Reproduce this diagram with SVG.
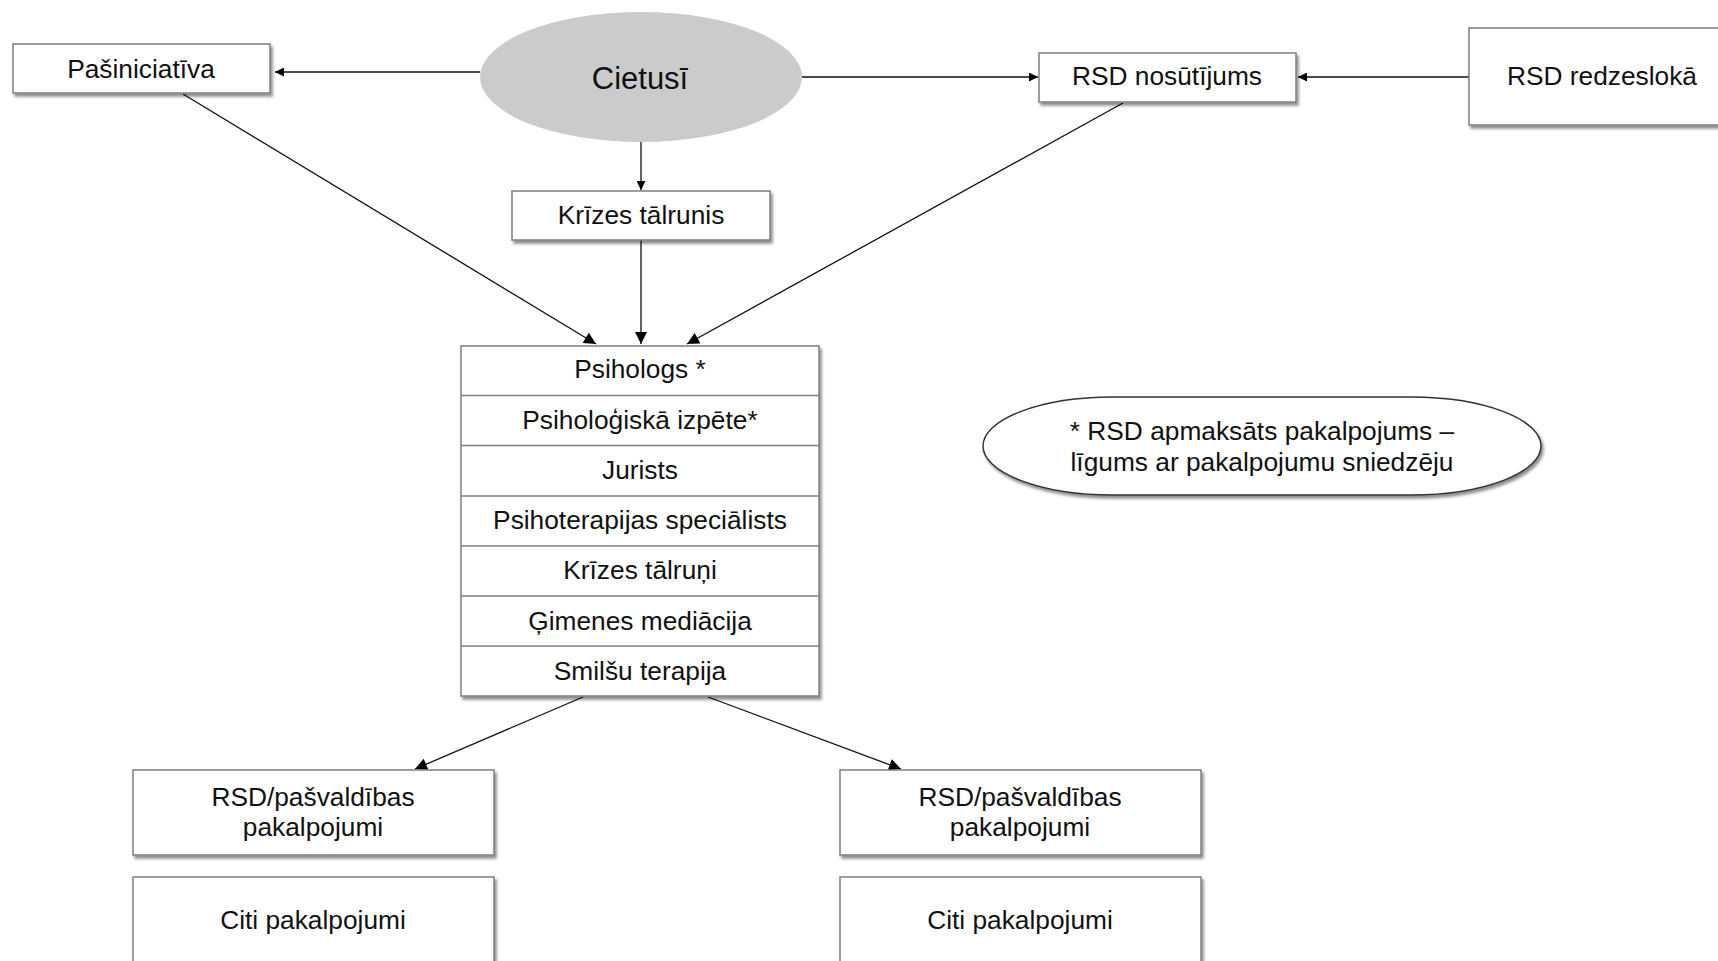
<svg xmlns="http://www.w3.org/2000/svg" width="1718" height="961" viewBox="0 0 1718 961">
<style>
.box{fill:#fff;stroke:#7f7f7f;stroke-width:1.5;filter:url(#sh)}
.t{font-family:"Liberation Sans",Arial,sans-serif;font-size:26.3px;fill:#111;text-anchor:middle}
.c{stroke:#111;stroke-width:1.3;fill:none}
</style>
<defs>
<filter id="sh" x="-10%" y="-10%" width="130%" height="140%">
<feGaussianBlur in="SourceAlpha" stdDeviation="1.5"/>
<feOffset dx="2" dy="3" result="b"/>
<feComponentTransfer><feFuncA type="linear" slope="0.45"/></feComponentTransfer>
<feMerge><feMergeNode/><feMergeNode in="SourceGraphic"/></feMerge>
</filter>
<marker id="ah" viewBox="0 0 10 10" refX="10" refY="5" markerWidth="10" markerHeight="9" markerUnits="userSpaceOnUse" orient="auto">
<path d="M0,0 L10,5 L0,10 z" fill="#000"/>
</marker>
<marker id="ahb" viewBox="0 0 10 10" refX="10" refY="5" markerWidth="13" markerHeight="12" markerUnits="userSpaceOnUse" orient="auto">
<path d="M0,0 L10,5 L0,10 z" fill="#000"/>
</marker>
</defs>
<rect width="1718" height="961" fill="#fff"/>

<g id="connectors">
<line class="c" x1="480" y1="72" x2="275" y2="72" marker-end="url(#ah)"/>
<line class="c" x1="802" y1="77" x2="1038" y2="77" marker-end="url(#ah)"/>
<line class="c" x1="1469" y1="77" x2="1298" y2="77" marker-end="url(#ah)"/>
<line class="c" x1="641" y1="142" x2="641" y2="190" marker-end="url(#ah)"/>
<line class="c" x1="183" y1="94" x2="596" y2="344" marker-end="url(#ahb)"/>
<line class="c" x1="641" y1="240" x2="641" y2="344" marker-end="url(#ahb)"/>
<line class="c" x1="1123" y1="103" x2="687" y2="344" marker-end="url(#ahb)"/>
<line class="c" x1="583" y1="697" x2="415" y2="769" marker-end="url(#ahb)"/>
<line class="c" x1="708" y1="697" x2="901" y2="769" marker-end="url(#ahb)"/>
</g>

<g id="pasiniciativa">
<rect class="box" x="13" y="44" width="257" height="49"/>
<text class="t" x="141" y="78">Pašiniciatīva</text>
</g>

<g id="cietusi">
<ellipse cx="641" cy="77" rx="161" ry="65" fill="#cbcbcb"/>
<text class="t" x="640" y="89" style="font-size:31px">Cietusī</text>
</g>

<g id="rsd-nosutijums">
<rect class="box" x="1039" y="53" width="257" height="49"/>
<text class="t" x="1167" y="85">RSD nosūtījums</text>
</g>

<g id="rsd-redzesloka">
<rect class="box" x="1469" y="28" width="260" height="97"/>
<text class="t" x="1602" y="85">RSD redzeslokā</text>
</g>

<g id="krizes-talrunis">
<rect class="box" x="512" y="191" width="258" height="49"/>
<text class="t" x="641" y="224">Krīzes tālrunis</text>
</g>

<g id="pakalpojumi-saraksts">
<rect class="box" x="461" y="346" width="358" height="350"/>
<g stroke="#7f7f7f" stroke-width="1.5">
<line x1="461" y1="395.5" x2="819" y2="395.5"/>
<line x1="461" y1="445.5" x2="819" y2="445.5"/>
<line x1="461" y1="496" x2="819" y2="496"/>
<line x1="461" y1="546" x2="819" y2="546"/>
<line x1="461" y1="596" x2="819" y2="596"/>
<line x1="461" y1="646" x2="819" y2="646"/>
</g>
<text class="t" x="640" y="378">Psihologs *</text>
<text class="t" x="640" y="429">Psiholoģiskā izpēte*</text>
<text class="t" x="640" y="479">Jurists</text>
<text class="t" x="640" y="529">Psihoterapijas speciālists</text>
<text class="t" x="640" y="579">Krīzes tālruņi</text>
<text class="t" x="640" y="630">Ģimenes mediācija</text>
<text class="t" x="640" y="680">Smilšu terapija</text>
</g>

<g id="piezime">
<rect x="983" y="397" width="558" height="98" rx="130" ry="49" fill="#fff" stroke="#333" stroke-width="1.5" filter="url(#sh)"/>
<text class="t" x="1262" y="440">* RSD apmaksāts pakalpojums –</text>
<text class="t" x="1262" y="471">līgums ar pakalpojumu sniedzēju</text>
</g>

<g id="rsd-pasvaldibas-1">
<rect class="box" x="133" y="770" width="361" height="85"/>
<text class="t" x="313" y="806">RSD/pašvaldības</text>
<text class="t" x="313" y="836">pakalpojumi</text>
</g>

<g id="citi-1">
<rect class="box" x="133" y="877" width="361" height="100"/>
<text class="t" x="313" y="929">Citi pakalpojumi</text>
</g>

<g id="rsd-pasvaldibas-2">
<rect class="box" x="840" y="770" width="361" height="85"/>
<text class="t" x="1020" y="806">RSD/pašvaldības</text>
<text class="t" x="1020" y="836">pakalpojumi</text>
</g>

<g id="citi-2">
<rect class="box" x="840" y="877" width="361" height="100"/>
<text class="t" x="1020" y="929">Citi pakalpojumi</text>
</g>
</svg>
